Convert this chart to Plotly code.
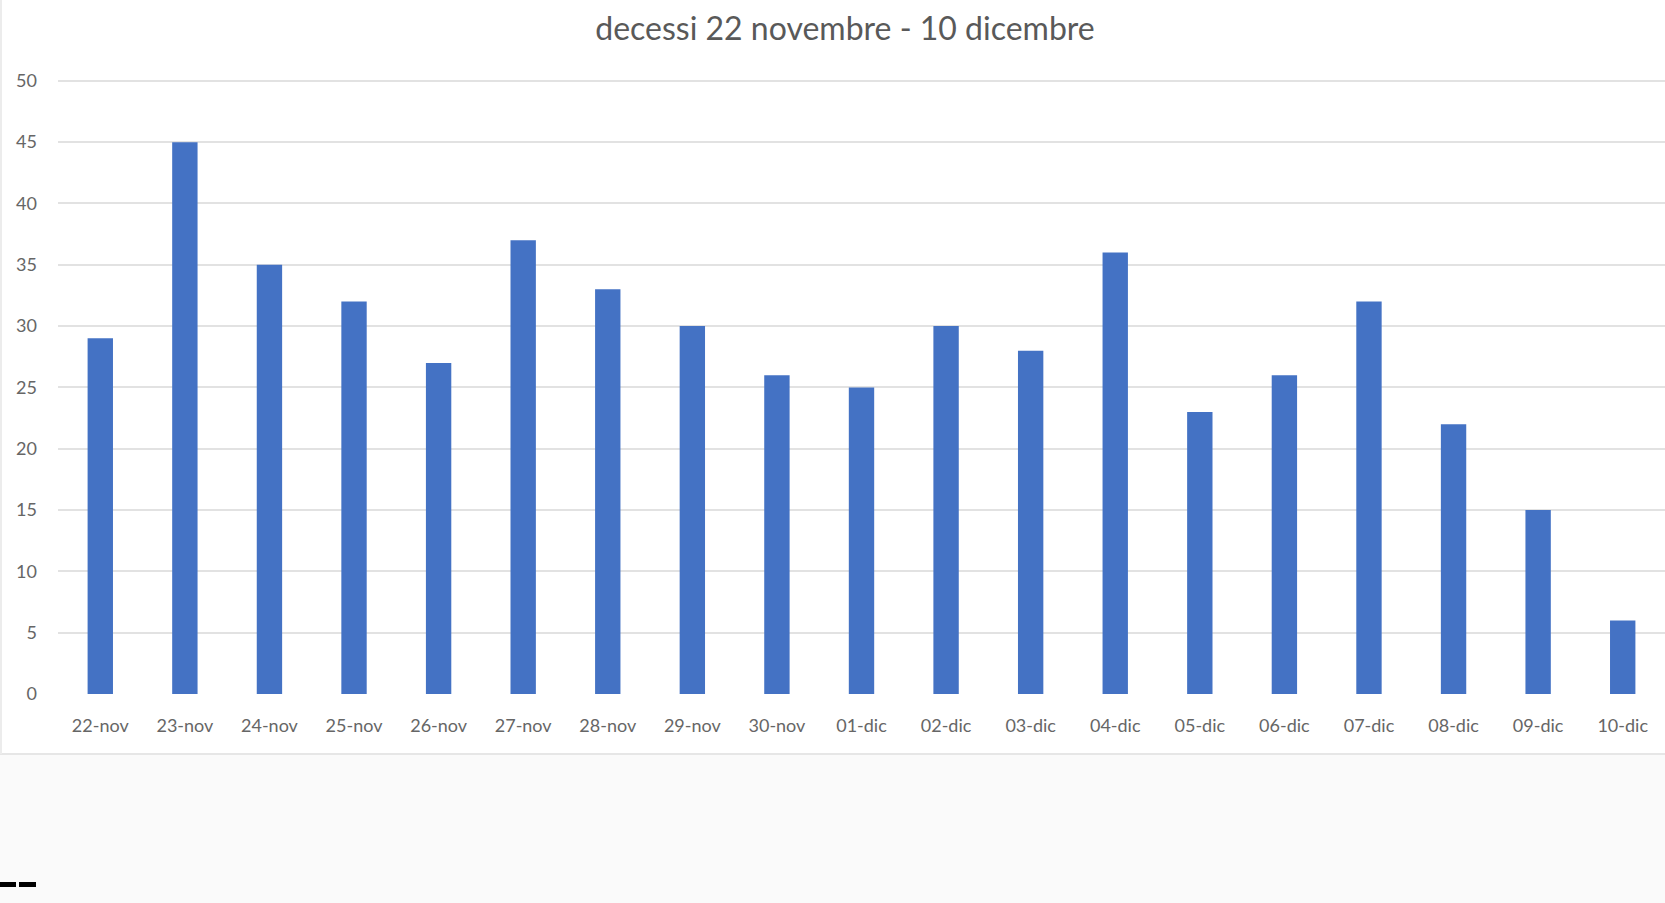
import plotly.graph_objects as go

# daily deaths, 22 nov - 10 dic
giorni = ["22-nov", "23-nov", "24-nov", "25-nov", "26-nov", "27-nov", "28-nov",
          "29-nov", "30-nov", "01-dic", "02-dic", "03-dic", "04-dic", "05-dic",
          "06-dic", "07-dic", "08-dic", "09-dic", "10-dic"]
decessi = [29, 45, 35, 32, 27, 37, 33, 30, 26, 25, 30, 28, 36, 23, 26, 32, 22, 15, 6]
y_ticks = [0, 5, 10, 15, 20, 25, 30, 35, 40, 45, 50]

W, H = 1665, 903
T, B = 79, 209
PH = H - T - B
font = "Lato"
grey = "#595959"

fig = go.Figure()
fig.add_trace(go.Bar(x=giorni, y=decessi, marker=dict(color="#4472C4", line=dict(width=0))))

fig.update_layout(
    width=W, height=H,
    margin=dict(l=58, r=0, t=T, b=B),
    paper_bgcolor="white", plot_bgcolor="white",
    bargap=0.7,
    showlegend=False,
    font=dict(family=font, color=grey, size=19),
    title=dict(text="decessi 22 novembre - 10 dicembre", x=0.5075, xanchor="center",
               y=1 - 29 / H, yanchor="middle", font=dict(family=font, size=32, color=grey)),
)
fig.update_xaxes(showgrid=False, showline=False, zeroline=False, ticks="",
                 ticklabelstandoff=19, tickfont=dict(size=18, color="#666666"))
fig.update_yaxes(range=[0, 50.15], tickvals=y_ticks, showgrid=True, gridcolor="#e2e2e2",
                 gridwidth=1.5, zeroline=False, showline=False, ticks="",
                 ticklabelstandoff=20, tickfont=dict(size=18, color="#666666"))

# lower grey band and the outer frame of the chart
yb = -(754 - (H - B)) / PH
fig.add_shape(type="rect", xref="paper", yref="paper", x0=-58 / (W - 58), x1=1,
              y0=-B / PH, y1=yb,
              fillcolor="#fafafa", line=dict(width=0), layer="below")
fig.add_shape(type="line", xref="paper", yref="paper", x0=-58 / (W - 58), x1=1,
              y0=yb, y1=yb, line=dict(color="#e6e6e6", width=2))
fig.add_shape(type="line", xref="paper", yref="paper", x0=-57 / (W - 58), x1=-57 / (W - 58),
              y0=yb, y1=T / PH + 1, line=dict(color="#ececec", width=2))
# two small black dashes bottom left
for a, b in [(0, 16), (19, 36)]:
    fig.add_shape(type="rect", xref="paper", yref="paper",
                  x0=(a - 58) / (W - 58), x1=(b - 58) / (W - 58),
                  y0=-(887 - (H - B)) / PH, y1=-(882 - (H - B)) / PH,
                  fillcolor="black", line=dict(width=0))

fig.write_html("out.html", config={"displayModeBar": False},
               post_script="document.body.style.margin='0';")
